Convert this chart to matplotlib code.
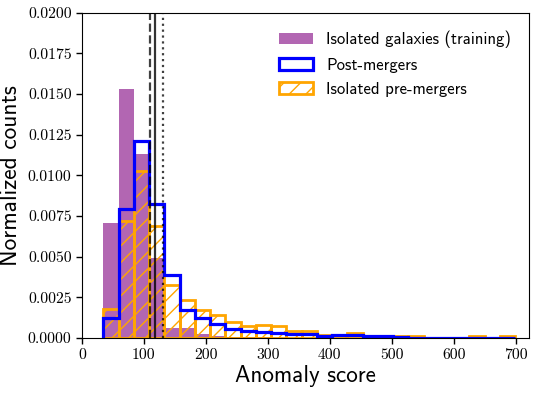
import numpy as np
import matplotlib
matplotlib.use("Agg")
import matplotlib.pyplot as plt

plt.rcParams['font.family'] = ['cmr10', 'DejaVu Sans']
plt.rcParams['axes.unicode_minus'] = False
plt.rcParams['axes.formatter.use_mathtext'] = True
plt.rcParams['hatch.linewidth'] = 1.0

# bin edges (27 bins)
bin_start, bin_end, n_bins = 34.5, 699.0, 27

iso_training = [0.00706, 0.01529, 0.01129, 0.00490, 0.00060, 0.00064, 0.00023,
                0.00010, 0.00007, 0.00005, 0.00003, 0.00002, 0.00001, 0.0,
                0.0, 0.0, 0.0, 0.0, 0.0, 0.0, 0.0, 0.0, 0.0, 0.0, 0.0, 0.0, 0.0]
post_mergers = [0.00121, 0.00790, 0.01211, 0.00821, 0.00385, 0.00174, 0.00124,
                0.00083, 0.00057, 0.00045, 0.00034, 0.00030, 0.00027, 0.00025,
                0.00014, 0.00017, 0.00020, 0.00010, 0.00010, 0.00003, 0.00002,
                0.0, 0.0, 0.0, 0.0, 0.0, 0.0]
pre_mergers = [0.00177, 0.00720, 0.01026, 0.00688, 0.00326, 0.00232, 0.00175,
               0.00139, 0.00101, 0.00074, 0.00080, 0.00072, 0.00040, 0.00040,
               0.00018, 0.00020, 0.00030, 0.00008, 0.00002, 0.00010, 0.00010,
               0.00002, 0.00002, 0.00002, 0.00010, 0.00002, 0.00010]

vline_dashed = 110
vline_solid = 118
vline_dotted = 131

labels = ['Isolated galaxies (training)', 'Post-mergers', 'Isolated pre-mergers']
xlabel = 'Anomaly score'
ylabel = 'Normalized counts'
xticks = [0, 100, 200, 300, 400, 500, 600, 700]
yticks = [0.0, 0.0025, 0.005, 0.0075, 0.01, 0.0125, 0.015, 0.0175, 0.02]

edges = np.linspace(bin_start, bin_end, n_bins + 1)
centers = 0.5 * (edges[:-1] + edges[1:])

fig = plt.figure(figsize=(5.39, 3.93), dpi=100)
ax = fig.add_axes([0.152, 0.140, 0.830, 0.828])

ax.hist(centers, bins=edges, weights=iso_training, color='purple', alpha=0.6,
        label=labels[0])
ax.hist(centers, bins=edges, weights=post_mergers, histtype='step',
        color='blue', lw=2.3, label=labels[1])
ax.hist(centers, bins=edges, weights=pre_mergers, histtype='bar', fill=False,
        edgecolor='orange', hatch='//', lw=2.0, label=labels[2])

ax.axvline(vline_dashed, color='k', ls='--', lw=1.6, alpha=0.75)
ax.axvline(vline_solid, color='k', ls='-', lw=1.6, alpha=0.8)
ax.axvline(vline_dotted, color='k', ls=':', lw=1.6, alpha=0.75)

ax.set_xlim(0, 722)
ax.set_ylim(0, 0.02)
ax.set_xticks(xticks)
ax.set_xticklabels([str(t) for t in xticks])
ax.set_yticks(yticks)
ax.set_yticklabels(['%.4f' % t for t in yticks])
ax.tick_params(direction='out', length=4, width=1, labelsize=11.3)

ax.set_xlabel(xlabel, fontfamily='cmss10', fontsize=16.6, labelpad=2)
ax.set_ylabel(ylabel, fontfamily='cmss10', fontsize=16.8, labelpad=4)

leg = ax.legend(loc='upper right', frameon=False, labelspacing=0.55,
                borderaxespad=0.7, prop={'family': 'cmss10', 'size': 12})

fig.savefig('out.png', dpi=100)
